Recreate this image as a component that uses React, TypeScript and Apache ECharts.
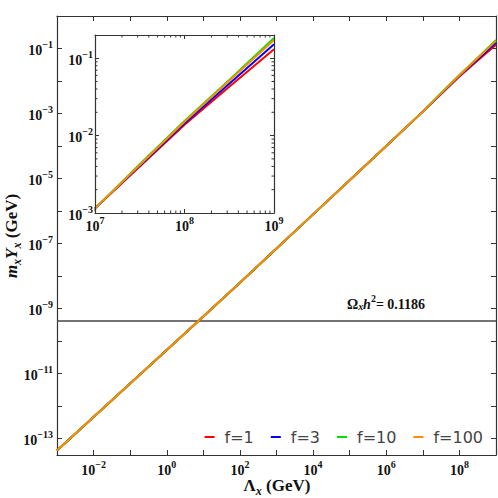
import React, { useEffect, useRef } from "react";
import * as echarts from "echarts";

// log10 of Λx (GeV)
const X_LOG = [-3, -2, -1, 0, 1, 2, 3, 4, 5, 6, 7, 7.5, 8, 8.5, 9];
// log10 of m_x Y_x (GeV) for each f
const F1_LOG = [-13.36, -12.33, -11.3, -10.27, -9.24, -8.2, -7.15, -6.1, -5.05, -4.0, -2.94, -2.4, -1.86, -1.37, -0.885];
const F3_LOG = [-13.36, -12.33, -11.3, -10.27, -9.24, -8.2, -7.15, -6.1, -5.05, -4.0, -2.94, -2.39, -1.84, -1.33, -0.82];
const F10_LOG = [-13.36, -12.33, -11.3, -10.27, -9.24, -8.2, -7.15, -6.1, -5.05, -4.0, -2.94, -2.37, -1.81, -1.28, -0.74];
const F100_LOG = [-13.36, -12.33, -11.3, -10.27, -9.24, -8.2, -7.15, -6.1, -5.05, -4.0, -2.94, -2.38, -1.82, -1.29, -0.765];
const SERIES_NAMES = ["f=1", "f=3", "f=10", "f=100"];
const SERIES_COLORS = ["#ff0000", "#0000ff", "#00e000", "#ff8c00"];
// Ω h² = 0.1186 line, log10 value
const OMEGA_LINE_LOG = -9.38;

const SERIF = "Liberation Serif";

const sup = (v: number) => (v < 0 ? "\u2212" + Math.abs(v) : String(v));
const isInt = (v: number) => Math.abs(v - Math.round(v)) < 1e-6;

const labelRich = {
  b: { fontFamily: SERIF, fontWeight: "bold", fontSize: 14, color: "#111", lineHeight: 18, verticalAlign: "bottom" },
  s: { fontFamily: SERIF, fontWeight: "bold", fontSize: 10, color: "#111", lineHeight: 10, verticalAlign: "top" },
};
const labelBase = { fontFamily: SERIF, fontWeight: "bold", fontSize: 14, color: "#111", rich: labelRich };

export default function App() {
  const ref = useRef<HTMLDivElement>(null);
  useEffect(() => {
    if (!ref.current) return;
    const chart = echarts.init(ref.current, null, { renderer: "svg" });
    const allLog = [F1_LOG, F3_LOG, F10_LOG, F100_LOG];
    const mk = (i: number) => X_LOG.map((x, j) => [x, allLog[i][j]]);

    const minorY: number[][] = [];
    [-3, -2].forEach((d) => {
      for (let k = 2; k <= 9; k++) minorY.push([d + Math.log10(k), 1]);
    });
    const minorX: number[][] = [];
    [7, 8].forEach((d) => {
      for (let k = 2; k <= 9; k++) minorX.push([d + Math.log10(k), 0]);
    });

    const axisLine = { show: true, onZero: false, lineStyle: { color: "#333", width: 1.2 } };
    const tick = (len: number) => ({ show: true, inside: true, length: len, lineStyle: { color: "#333", width: 1 } });

    const mainXFmt = (v: number) => (isInt(v) && Math.round(v) % 2 === 0 ? `{b|10}{s|${sup(Math.round(v))}}` : "");
    const mainYFmt = (v: number) => (isInt(v) && Math.abs(Math.round(v) % 2) === 1 ? `{b|10}{s|${sup(Math.round(v))}}` : "");
    const insetFmt = (v: number) => (isInt(v) ? `{b|10}{s|${sup(Math.round(v))}}` : "");

    const series: any[] = [];
    SERIES_NAMES.forEach((n, i) => {
      series.push({
        type: "line",
        name: n,
        xAxisIndex: 0,
        yAxisIndex: 0,
        data: mk(i),
        showSymbol: false,
        symbol: "none",
        color: SERIES_COLORS[i],
        lineStyle: { width: 2, color: SERIES_COLORS[i] },
        z: 3,
        markLine:
          i === 0
            ? {
                silent: true,
                symbol: "none",
                label: { show: false },
                lineStyle: { color: "#444", width: 1.5, type: "solid" },
                data: [{ yAxis: OMEGA_LINE_LOG }],
                z: 2,
              }
            : undefined,
      });
    });
    SERIES_NAMES.forEach((n, i) => {
      series.push({
        type: "line",
        name: n,
        xAxisIndex: 2,
        yAxisIndex: 2,
        data: mk(i),
        showSymbol: false,
        symbol: "none",
        clip: true,
        color: SERIES_COLORS[i],
        lineStyle: { width: 2, color: SERIES_COLORS[i] },
        z: 5,
      });
    });
    series.push({
      type: "custom",
      xAxisIndex: 2,
      yAxisIndex: 2,
      data: [...minorX, ...minorY],
      silent: true,
      z: 6,
      renderItem: (params: any, api: any) => {
        const v = api.value(0);
        const kind = api.value(1);
        const st = { stroke: "#333", lineWidth: 1 };
        if (kind === 0) {
          const b = api.coord([v, -3]);
          const t = api.coord([v, -0.7]);
          return {
            type: "group",
            children: [
              { type: "line", shape: { x1: b[0], y1: b[1], x2: b[0], y2: b[1] - 2.5 }, style: st },
              { type: "line", shape: { x1: t[0], y1: t[1], x2: t[0], y2: t[1] + 2.5 }, style: st },
            ],
          };
        }
        const l = api.coord([7, v]);
        const r = api.coord([9, v]);
        return {
          type: "group",
          children: [
            { type: "line", shape: { x1: l[0], y1: l[1], x2: l[0] + 2.5, y2: l[1] }, style: st },
            { type: "line", shape: { x1: r[0], y1: r[1], x2: r[0] - 2.5, y2: r[1] }, style: st },
          ],
        };
      },
    });

    chart.setOption({
      animation: false,
      backgroundColor: "#fff",
      legend: {
        data: SERIES_NAMES,
        right: 10,
        top: 424,
        icon: "rect",
        itemWidth: 10,
        itemHeight: 2,
        itemGap: 17,
        textStyle: { fontFamily: "DejaVu Sans", fontSize: 16, color: "#444", padding: [0, 0, 0, 5] },
      },
      grid: [
        { left: 57, top: 16, right: 2, bottom: 43, outerBoundsMode: "none" },
        { left: 95, top: 35, width: 179, height: 178, show: true, backgroundColor: "#fff", borderWidth: 0, z: 4, outerBoundsMode: "none" },
      ],
      xAxis: [
        {
          type: "value", gridIndex: 0, min: -3, max: 9, interval: 1, position: "bottom",
          axisLine, axisTick: tick(5), splitLine: { show: false },
          axisLabel: { ...labelBase, formatter: mainXFmt, margin: 4 },
        },
        {
          type: "value", gridIndex: 0, min: -3, max: 9, interval: 1, position: "top",
          axisLine, axisTick: tick(5), splitLine: { show: false }, axisLabel: { show: false },
        },
        {
          type: "value", gridIndex: 1, min: 7, max: 9, interval: 1, position: "bottom", z: 6,
          axisLine, axisTick: tick(4), splitLine: { show: false },
          axisLabel: { ...labelBase, formatter: insetFmt, margin: 2 },
        },
        {
          type: "value", gridIndex: 1, min: 7, max: 9, interval: 1, position: "top", z: 6,
          axisLine, axisTick: tick(4), splitLine: { show: false }, axisLabel: { show: false },
        },
      ],
      yAxis: [
        {
          type: "value", gridIndex: 0, min: -13.5, max: 0, splitNumber: 14, minInterval: 1, maxInterval: 1, position: "left",
          axisLine, axisTick: tick(5), splitLine: { show: false },
          axisLabel: { ...labelBase, formatter: mainYFmt, margin: 4 },
        },
        {
          type: "value", gridIndex: 0, min: -13.5, max: 0, splitNumber: 14, minInterval: 1, maxInterval: 1, position: "right",
          axisLine, axisTick: tick(5), splitLine: { show: false }, axisLabel: { show: false },
        },
        {
          type: "value", gridIndex: 1, min: -3, max: -0.7, interval: 1, position: "left", z: 6,
          axisLine, axisTick: tick(4), splitLine: { show: false },
          axisLabel: { ...labelBase, formatter: insetFmt, margin: 2 },
        },
        {
          type: "value", gridIndex: 1, min: -3, max: -0.7, interval: 1, position: "right", z: 6,
          axisLine, axisTick: tick(4), splitLine: { show: false }, axisLabel: { show: false },
        },
      ],
      graphic: [
        {
          type: "text",
          x: 13,
          y: 236,
          rotation: Math.PI / 2,
          style: {
            text: "{mi|m}{sb|x}{mi|Y}{sb|x}{b| (GeV)}",
            align: "center",
            verticalAlign: "middle",
            rich: {
              mi: { fontFamily: SERIF, fontStyle: "italic", fontWeight: "bold", fontSize: 17, fill: "#111", lineHeight: 20, verticalAlign: "top" },
              sb: { fontFamily: SERIF, fontStyle: "italic", fontWeight: "bold", fontSize: 12, fill: "#111", lineHeight: 12, verticalAlign: "bottom" },
              b: { fontFamily: SERIF, fontWeight: "bold", fontSize: 17, fill: "#111", lineHeight: 20, verticalAlign: "top" },
            },
          },
        },
        {
          type: "text",
          x: 277,
          y: 487,
          style: {
            text: "{b|\u039B}{sb|x}{b| (GeV)}",
            align: "center",
            verticalAlign: "middle",
            rich: {
              sb: { fontFamily: SERIF, fontStyle: "italic", fontWeight: "bold", fontSize: 12, fill: "#111", lineHeight: 12, verticalAlign: "bottom" },
              b: { fontFamily: SERIF, fontWeight: "bold", fontSize: 17, fill: "#111", lineHeight: 20, verticalAlign: "top" },
            },
          },
        },
        {
          type: "text",
          x: 386,
          y: 302,
          style: {
            text: "{b|\u03A9}{sb|x}{bi|h}{sp|2}{b|= 0.1186}",
            align: "center",
            verticalAlign: "middle",
            rich: {
              b: { fontFamily: SERIF, fontWeight: "bold", fontSize: 14, fill: "#111", lineHeight: 18, verticalAlign: "bottom" },
              bi: { fontFamily: SERIF, fontStyle: "italic", fontWeight: "bold", fontSize: 14, fill: "#111", lineHeight: 18, verticalAlign: "bottom" },
              sb: { fontFamily: SERIF, fontStyle: "italic", fontWeight: "bold", fontSize: 10, fill: "#111", lineHeight: 10, verticalAlign: "bottom" },
              sp: { fontFamily: SERIF, fontWeight: "bold", fontSize: 10, fill: "#111", lineHeight: 10, verticalAlign: "top" },
            },
          },
        },
      ],
      series,
    });
    return () => chart.dispose();
  }, []);
  return <div ref={ref} style={{ position: "fixed", left: 0, top: 0, width: 498, height: 498, background: "#fff" }} />;
}
